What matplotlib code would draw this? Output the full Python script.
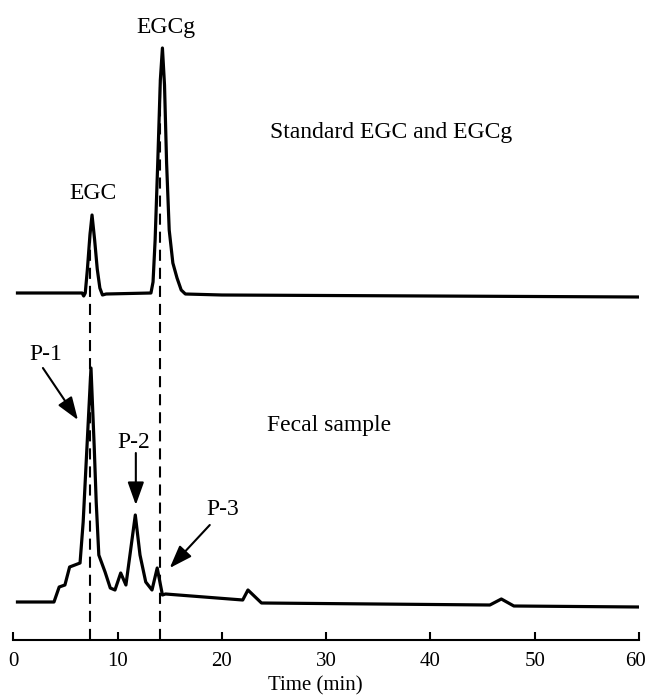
import matplotlib
matplotlib.use("Agg")
import matplotlib.pyplot as plt
import matplotlib.transforms as mtransforms
import numpy as np

plt.rcParams["font.family"] = ["Liberation Serif", "DejaVu Serif"]
plt.rcParams["lines.scale_dashes"] = False

# HPLC chromatograms: retention time (min) and detector response (arbitrary units)
std_time = [0.4, 6.6, 6.75, 6.9, 7.1, 7.35, 7.55, 7.8, 8.05, 8.3, 8.55, 8.9,
            13.2, 13.4, 13.6, 13.85, 14.1, 14.3, 14.5, 14.7, 14.95, 15.3, 15.7,
            16.1, 16.5, 20.0, 40.0, 60.0]
std_response = [2, 2, -1, 2, 25, 60, 80, 55, 26, 7, 0, 1,
                2, 13, 55, 132, 215, 247, 210, 132, 65, 32, 17,
                5, 1, 0, -1, -2]

fecal_time = [0.4, 3.9, 4.4, 4.95, 5.4, 5.9, 6.4, 6.7, 7.0, 7.45, 7.76, 7.95,
              8.2, 8.8, 9.3, 9.75, 10.3, 10.8, 11.7, 12.15, 12.7, 13.3, 13.8,
              14.3, 14.6, 22.0, 22.5, 23.8, 45.7, 46.8, 48.0, 60.0]
fecal_response = [0, 0, 15, 17, 35, 37, 39, 80, 142, 234, 155, 100,
                  47, 30, 14, 12, 29, 17, 87, 47, 20, 12, 34,
                  7, 8, 2, 12, -1, -3, 3, -4, -5]

# retention times of the two reference standards
ref_times = [7.4, 14.1]
ref_names = ["EGC", "EGCg"]

x_ticks = [0, 10, 20, 30, 40, 50, 60]
x_label = "Time (min)"

# vertical placement of the two traces within the panel
std_offset = 345
fecal_offset = 38

W, H = 647, 698
fig = plt.figure(figsize=(W / 100, H / 100), dpi=100)
ax = fig.add_axes([13.3 / W, (H - 640) / H, (639 - 13.3) / W, 640 / H])
ax.set_xlim(0, 60)
ax.set_ylim(0, 640)

std_y = np.array(std_response) + std_offset
fecal_y = np.array(fecal_response) + fecal_offset

# dashed guides from the standard peaks down to the time axis
for t in ref_times:
    top = np.interp(t, std_time, std_y)
    ax.plot([t, t], [0, top], color="black", lw=1.5, dashes=(8, 5), zorder=1)

ax.plot(std_time, std_y, color="black", lw=2.3, solid_joinstyle="round", zorder=3)
ax.plot(fecal_time, fecal_y, color="black", lw=2.3, solid_joinstyle="round", zorder=3)

fs = 17
ax.text(14.6, 607, ref_names[1], ha="center", va="baseline", fontsize=fs)
ax.text(7.65, 441, ref_names[0], ha="center", va="baseline", fontsize=fs)
ax.text(24.6, 502, "Standard EGC and EGCg", ha="left", va="baseline", fontsize=fs)
ax.text(24.3, 209, "Fecal sample", ha="left", va="baseline", fontsize=fs)

arrow = dict(arrowstyle="-|>,head_length=1.4,head_width=0.5", mutation_scale=10,
             lw=1.5, color="black", shrinkA=0, shrinkB=0)
peak_labels = [("P-1", (3.13, 280), (2.84, 272), (6.2, 220)),
               ("P-2", (11.57, 192), (11.75, 187), (11.75, 135)),
               ("P-3", (20.1, 125), (18.84, 115), (15.0, 72))]
for name, pos, tail, head in peak_labels:
    ax.text(pos[0], pos[1], name, ha="center", va="baseline", fontsize=fs)
    ax.annotate("", xy=head, xytext=tail, arrowprops=arrow)

for side in ("left", "right", "top"):
    ax.spines[side].set_visible(False)
ax.spines["bottom"].set_linewidth(1.5)
ax.set_yticks([])
ax.set_xticks(x_ticks)
ax.tick_params(axis="x", direction="in", length=5.8, width=1.5, pad=9, labelsize=15)
ax.set_xlabel(x_label, fontsize=15, labelpad=4)
ax.xaxis.set_label_coords(0.482, -0.057)

# keep the last tick label inside the figure edge
fig.canvas.draw()
last = ax.get_xticklabels()[-1]
last.set_transform(last.get_transform() +
                   mtransforms.ScaledTranslation(-4 / 100, 0, fig.dpi_scale_trans))
ax.patch.set_visible(False)

fig.savefig("out.png", dpi=100)
